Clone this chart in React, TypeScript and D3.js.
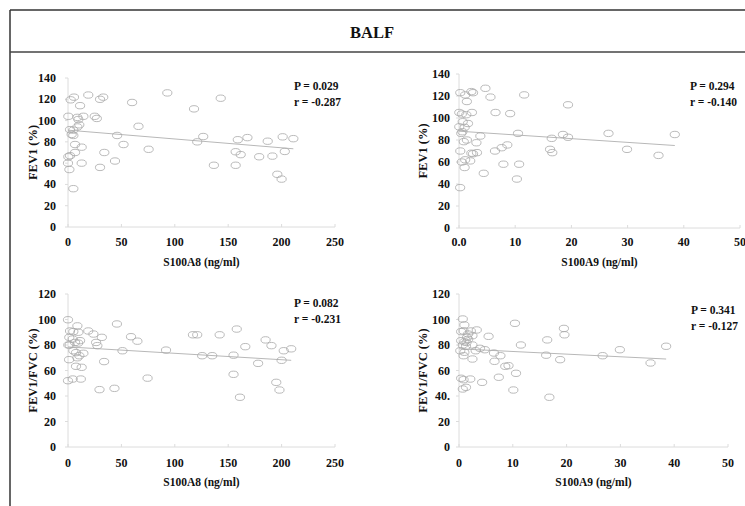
import React from "react";
import * as d3 from "d3";

// ---------- DATA ----------
const fev1VsA8: [number, number][] = [
  [0.3, 104], [2.5, 119.5], [5.6, 122], [19, 124], [30, 120], [33, 122], [11.3, 114],
  [8.8, 103], [14.4, 104], [25, 104], [27, 102], [9.7, 101], [10.6, 96], [8.8, 94],
  [1.9, 91.5], [5, 91], [3.4, 87], [5, 86], [6.6, 77.5], [12.8, 75], [6.6, 70], [0.3, 66],
  [1.9, 67], [0, 60], [12.8, 60], [1.3, 54], [5, 36], [30, 56], [34, 70], [44, 62],
  [46, 86], [52, 77.5], [66, 94.6], [60, 117], [75.5, 73], [93, 126], [118, 111],
  [121, 80], [126.6, 85], [143, 121], [136.6, 58], [157, 58], [159, 82], [168, 84],
  [157, 70.7], [161.7, 68], [179, 66], [187, 80.6], [191.4, 66.6], [201, 84.7],
  [211, 83], [203, 71], [196, 49.5], [200, 45],
];
const fev1VsA9: [number, number][] = [
  [0.23, 123], [1.1, 121], [1.4, 115], [2.2, 124], [2.5, 123], [4.7, 127], [5.6, 119],
  [11.6, 121], [0.05, 105], [0.5, 103.6], [1.3, 103], [2.3, 105], [6.5, 105], [9.1, 104],
  [0.66, 96.6], [1.6, 95], [0.05, 92], [1, 91.5], [0.4, 86], [0.6, 87.5], [1.4, 80],
  [0.85, 78.5], [3.8, 83.6], [3.1, 77.5], [0.23, 70], [2.2, 68], [2.5, 67.5], [3.2, 68.5],
  [6.4, 70], [7.6, 73], [8.6, 75.5], [10.5, 86], [0.5, 60], [2, 61], [1, 55], [1.1, 62],
  [7.9, 58], [10.7, 58], [4.4, 49.7], [10.3, 44.5], [0.2, 36.7], [16.2, 71.5],
  [16.6, 68.5], [16.5, 81.5], [18.5, 85], [19.4, 82.5], [19.4, 112], [26.6, 86],
  [29.9, 71.5], [35.5, 66], [38.4, 85],
];
const ratioVsA8: [number, number][] = [
  [0, 99.8], [8.8, 95], [1.9, 91], [5, 90.5], [9.7, 90], [19, 91], [23.8, 88.6], [1.2, 86],
  [4.4, 84.7], [11.3, 83.4], [6.6, 82], [9.5, 81.5], [26.3, 82], [31.7, 86], [27.5, 79.5],
  [45.8, 96.5], [59, 86.5], [65, 83], [0.3, 80], [1.5, 80], [5, 75.5], [7.5, 74],
  [10.6, 71.6], [14.4, 73.5], [8.8, 70], [1, 68.5], [7.5, 63.3], [12.8, 62.5], [33.8, 67],
  [51, 75.5], [91.8, 76], [0, 52], [4.4, 53.3], [12, 53.3], [74.5, 54], [29.5, 45],
  [43.5, 46], [117, 88], [121, 88], [142, 88], [158, 92.5], [125.6, 71.6], [135, 71.6],
  [155, 72], [166, 78.7], [185, 84], [190.5, 79.5], [202, 75.5], [209, 77], [200, 68],
  [178, 65.6], [155, 57], [195, 50.7], [198, 44.7], [161, 39],
];
const ratioVsA9: [number, number][] = [
  [0.7, 100.4], [1, 95.7], [0.4, 90.5], [0.85, 91], [2.2, 91], [3.3, 91.8], [1.7, 88.6],
  [2.5, 87.3], [1.5, 86], [5.5, 86.8], [10.4, 97], [0.4, 83.4], [1, 82.5], [1.4, 82],
  [1.7, 84.5], [0.7, 80], [1.3, 79], [2.5, 80], [0.24, 75.5], [1, 74.3], [3.9, 77.4],
  [3.1, 75.5], [4.8, 76.3], [6.5, 73.7], [11.5, 80], [0.85, 71.6], [2.5, 69], [6.6, 67.2],
  [7.7, 71.6], [8.6, 63.3], [9.2, 63.8], [0.4, 53.9], [0.85, 52.8], [2.1, 53.3],
  [4.3, 50.7], [7.4, 54.7], [10.6, 57.8], [0.7, 45.5], [1.3, 46.8], [10.1, 44.7],
  [16.8, 39], [16.4, 84], [16.2, 72], [18.8, 68.5], [19.5, 93], [19.6, 88], [26.7, 71.6],
  [29.9, 76.3], [35.6, 65.9], [38.5, 79],
];

// trend lines (endpoints)
const trendFev1A8: [number, number][] = [[0, 91], [211, 73.5]];
const trendFev1A9: [number, number][] = [[0, 88], [38.4, 75]];
const trendRatioA8: [number, number][] = [[0, 78.5], [209, 68]];
const trendRatioA9: [number, number][] = [[0, 77], [38.5, 69]];

// ticks
const xTicksA8 = [0, 50, 100, 150, 200, 250];
const xTicksA9 = [0, 10, 20, 30, 40, 50];
const xLabelsA9Top = ["0.0", "10", "20", "30", "40", "50"];
const xLabelsA9Bottom = ["0", "10", "20", "30", "40", "50"];
const yTicksFev1 = [0, 20, 40, 60, 80, 100, 120, 140];
const yTicksRatio = [0, 20, 40, 60, 80, 100, 120];
const yLabelsRatioLeft = ["0", "20", "40", "60", "80", "100", "120"];
const yLabelsRatioRight = ["0", "20", "40.", "60", "80", "100", "120"];

const statsFev1A8 = ["P = 0.029", "r = -0.287"];
const statsFev1A9 = ["P = 0.294", "r = -0.140"];
const statsRatioA8 = ["P = 0.082", "r = -0.231"];
const statsRatioA9 = ["P = 0.341", "r = -0.127"];

const FONT = "'Liberation Serif', 'Times New Roman', serif";
const AXIS = "#dcdcdc";
const MARK = "#a8a8a8";

type PanelProps = {
  data: [number, number][];
  trend: [number, number][];
  xDomain: [number, number];
  xRange: [number, number];
  yDomain: [number, number];
  yRange: [number, number];
  xTicks: number[];
  xLabels: string[];
  yTicks: number[];
  yLabels: string[];
  xTitle: string;
  yTitle: string;
  yTitleX: number;
  xTickY: number;
  xTitleY: number;
  yLabelX: number;
  stats: string[];
  statsX: number;
  statsY: number;
};

function Panel(p: PanelProps) {
  const x = d3.scaleLinear().domain(p.xDomain).range(p.xRange);
  const y = d3.scaleLinear().domain(p.yDomain).range(p.yRange);
  const line = d3
    .line<[number, number]>()
    .x((d) => x(d[0]))
    .y((d) => y(d[1]));
  const y0 = y(p.yDomain[0]);
  const x0 = x(p.xDomain[0]);
  return (
    <g>
      <line x1={x0} x2={x(p.xDomain[1])} y1={y0} y2={y0} stroke={AXIS} strokeWidth={1} />
      <line x1={x0} x2={x0} y1={y0} y2={y(p.yDomain[1])} stroke={AXIS} strokeWidth={1} />
      {p.xTicks.map((t, i) => (
        <g key={"xt" + i}>
          <line x1={x(t)} x2={x(t)} y1={y0} y2={y0 - 3} stroke={AXIS} />
          <text
            x={x(t)}
            y={p.xTickY}
            textAnchor="middle"
            fontFamily={FONT}
            fontWeight="bold"
            fontSize={12}
            fill="#111"
          >
            {p.xLabels[i]}
          </text>
        </g>
      ))}
      {p.yTicks.map((t, i) => (
        <g key={"yt" + i}>
          <line x1={x0 - 3} x2={x0} y1={y(t)} y2={y(t)} stroke={AXIS} />
          <text
            x={p.yLabelX}
            y={y(t) + 4}
            textAnchor="end"
            fontFamily={FONT}
            fontWeight="bold"
            fontSize={12}
            fill="#111"
          >
            {p.yLabels[i]}
          </text>
        </g>
      ))}
      <text
        x={(p.xRange[0] + x(p.xDomain[1])) / 2}
        y={p.xTitleY}
        textAnchor="middle"
        fontFamily={FONT}
        fontWeight="bold"
        fontSize={11.5}
        fill="#111"
      >
        {p.xTitle}
      </text>
      <text
        transform={`translate(${p.yTitleX},${(y0 + y(p.yDomain[1])) / 2}) rotate(-90)`}
        textAnchor="middle"
        fontFamily={FONT}
        fontWeight="bold"
        fontSize={12.5}
        fill="#111"
      >
        {p.yTitle}
      </text>
      <path d={line(p.trend) || ""} fill="none" stroke="#b8b8b8" strokeWidth={1} />
      {p.data.map((d, i) => (
        <ellipse
          key={"pt" + i}
          cx={x(d[0])}
          cy={y(d[1])}
          rx={4.6}
          ry={3.2}
          fill="none"
          stroke={MARK}
          strokeWidth={0.8}
        />
      ))}
      {p.stats.map((s, i) => (
        <text
          key={"st" + i}
          x={p.statsX}
          y={p.statsY + i * 16}
          fontFamily={FONT}
          fontWeight="bold"
          fontSize={11.5}
          fill="#111"
        >
          {s}
        </text>
      ))}
    </g>
  );
}

export default function App() {
  const numLabels = (a: number[]) => a.map((v) => String(v));
  return (
    <svg
      width={745}
      height={506}
      style={{ position: "absolute", left: 0, top: 0, background: "#fff" }}
    >
      <rect x={0} y={0} width={745} height={506} fill="#fff" />
      <line x1={10} x2={745} y1={10} y2={10} stroke="#333" strokeWidth={1.5} />
      <line x1={10} x2={10} y1={10} y2={506} stroke="#333" strokeWidth={1.5} />
      <line x1={10} x2={745} y1={52} y2={52} stroke="#444" strokeWidth={1.5} />
      <text
        x={372}
        y={38}
        textAnchor="middle"
        fontFamily={FONT}
        fontWeight="bold"
        fontSize={16.5}
        fill="#111"
      >
        BALF
      </text>

      <Panel
        data={fev1VsA8}
        trend={trendFev1A8}
        xDomain={[0, 250]}
        xRange={[68, 335]}
        yDomain={[0, 140]}
        yRange={[227, 78]}
        xTicks={xTicksA8}
        xLabels={numLabels(xTicksA8)}
        yTicks={yTicksFev1}
        yLabels={numLabels(yTicksFev1)}
        xTitle="S100A8 (ng/ml)"
        yTitle="FEV1 (%)"
        yTitleX={37}
        xTickY={246}
        xTitleY={266}
        yLabelX={56}
        stats={statsFev1A8}
        statsX={294}
        statsY={90}
      />
      <Panel
        data={fev1VsA9}
        trend={trendFev1A9}
        xDomain={[0, 50]}
        xRange={[459, 740]}
        yDomain={[0, 140]}
        yRange={[228, 74]}
        xTicks={xTicksA9}
        xLabels={xLabelsA9Top}
        yTicks={yTicksFev1}
        yLabels={numLabels(yTicksFev1)}
        xTitle="S100A9  (ng/ml)"
        yTitle="FEV1 (%)"
        yTitleX={427}
        xTickY={246}
        xTitleY={266}
        yLabelX={450}
        stats={statsFev1A9}
        statsX={690}
        statsY={90}
      />
      <Panel
        data={ratioVsA8}
        trend={trendRatioA8}
        xDomain={[0, 250]}
        xRange={[68, 335]}
        yDomain={[0, 120]}
        yRange={[447, 294]}
        xTicks={xTicksA8}
        xLabels={numLabels(xTicksA8)}
        yTicks={yTicksRatio}
        yLabels={yLabelsRatioLeft}
        xTitle="S100A8 (ng/ml)"
        yTitle="FEV1/FVC (%)"
        yTitleX={37}
        xTickY={467}
        xTitleY={486}
        yLabelX={56}
        stats={statsRatioA8}
        statsX={294}
        statsY={307}
      />
      <Panel
        data={ratioVsA9}
        trend={trendRatioA9}
        xDomain={[0, 50]}
        xRange={[459, 728]}
        yDomain={[0, 120]}
        yRange={[447, 294]}
        xTicks={xTicksA9}
        xLabels={xLabelsA9Bottom}
        yTicks={yTicksRatio}
        yLabels={yLabelsRatioRight}
        xTitle="S100A9 (ng/ml)"
        yTitle="FEV1/FVC (%)"
        yTitleX={427}
        xTickY={467}
        xTitleY={486}
        yLabelX={450}
        stats={statsRatioA9}
        statsX={691}
        statsY={314}
      />
    </svg>
  );
}
